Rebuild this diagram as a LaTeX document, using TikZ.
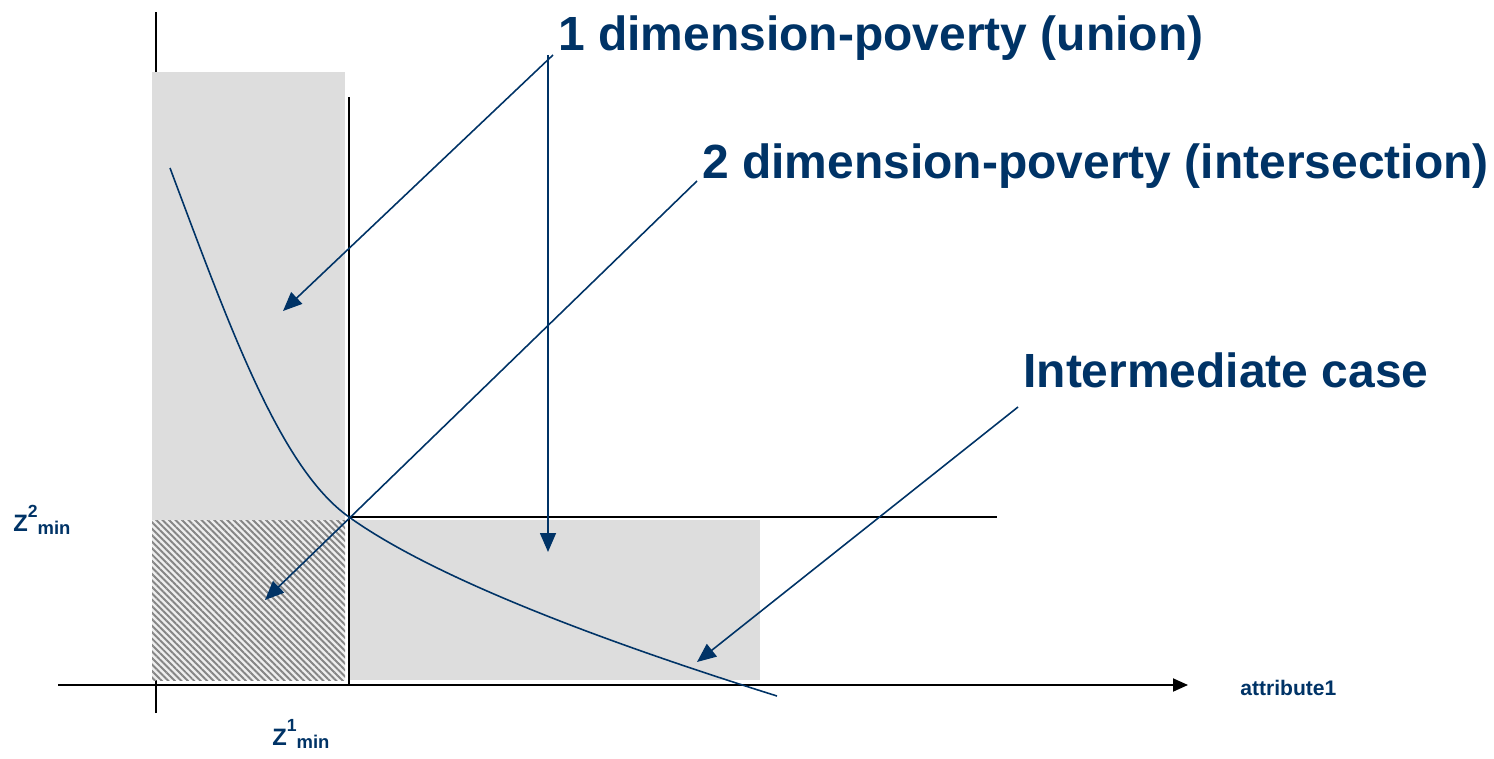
\documentclass[tikz,border=0pt]{standalone}
\usepackage{fontspec}
\setmainfont{Liberation Sans}
\usetikzlibrary{arrows.meta, patterns.meta, positioning, calc}
\definecolor{pvNavy}{HTML}{003366}
\definecolor{pvGray}{HTML}{DDDDDD}
\definecolor{pvHatch}{HTML}{858585}
\tikzset{
  axisline/.style={line width=1.1pt, black},
  pointer/.style={-{Triangle[length=3.8mm, width=3.2mm]}, line width=0.9pt, pvNavy},
  region/.style={fill=pvGray, draw=none},
  hatched/.style={fill=pvGray!50, postaction={pattern={Lines[angle=-45, distance=2.6pt, line width=1.1pt]}, pattern color=pvHatch}},
  headline/.style={font=\fontsize{27.3}{30}\selectfont\bfseries, text=pvNavy, inner sep=0pt, anchor=base west},
  axislabel/.style={font=\fontsize{13.5}{15}\selectfont\bfseries, text=pvNavy, inner sep=0pt, anchor=base west}
}
\newcommand{\zmin}[1]{Z\raisebox{7.5pt}{\fontsize{10}{11}\selectfont #1}\raisebox{-2pt}{\fontsize{10.5}{12}\selectfont min}}

\begin{document}
\begin{tikzpicture}[x=0.2mm, y=0.2mm]
  \useasboundingbox (0,0) rectangle (1494,758);

  % attribute 2 axis (mostly hidden by the shaded strip)
  \draw[axisline] (156,45) -- (156,746);

  % poverty regions
  \fill[region] (152,78) rectangle (345,686);
  \fill[region] (349,78) rectangle (760,238);
  \fill[hatched] (152,78) rectangle (345,238);

  % axes and thresholds
  \coordinate (xstart) at (58,73);
  \coordinate (xend) at (1188,73);
  \draw[axisline, -{Triangle[length=3mm, width=2.6mm]}] (xstart) -- (xend);
  \coordinate (corner) at (349,241);
  \draw[axisline] (349,73) -- (349,661);
  \draw[axisline] (corner) -- (997,241);

  % iso-welfare curve
  \draw[pvNavy, line width=0.9pt] (170,590) .. controls (230,430) and (280,290) .. (corner)
    .. controls (420,190) and (560,130) .. (777,62);

  % labels
  \node[headline] (union) at (558,707) {1 dimension-poverty (union)};
  \node[headline] (inter) at (702,580) {2 dimension-poverty (intersection)};
  \node[headline] (middle) at (1023,371) {Intermediate case};
  \node[axislabel] (z2) at (13,227) {\zmin{2}};
  \node[axislabel] (z1) at (272,13) {\zmin{1}};
  \node[axislabel, font=\fontsize{12}{14}\selectfont\bfseries] (attr) at (1240,63) {attribute1};

  % pointers
  \coordinate (uleft) at (283,447);
  \coordinate (ubottom) at (548,206);
  \coordinate (ihatch) at (265,158);
  \coordinate (mcurve) at (697,96);
  \draw[pointer] ([shift={(-5,-4)}]union.base west) -- (uleft);
  \draw[pointer] ([shift={(-10,-4)}]union.base west) -- (ubottom);
  \draw[pointer] ([shift={(-5,-3)}]inter.base west) -- (ihatch);
  \draw[pointer] ([shift={(-5,-20)}]middle.base west) -- (mcurve);
\end{tikzpicture}
\end{document}
